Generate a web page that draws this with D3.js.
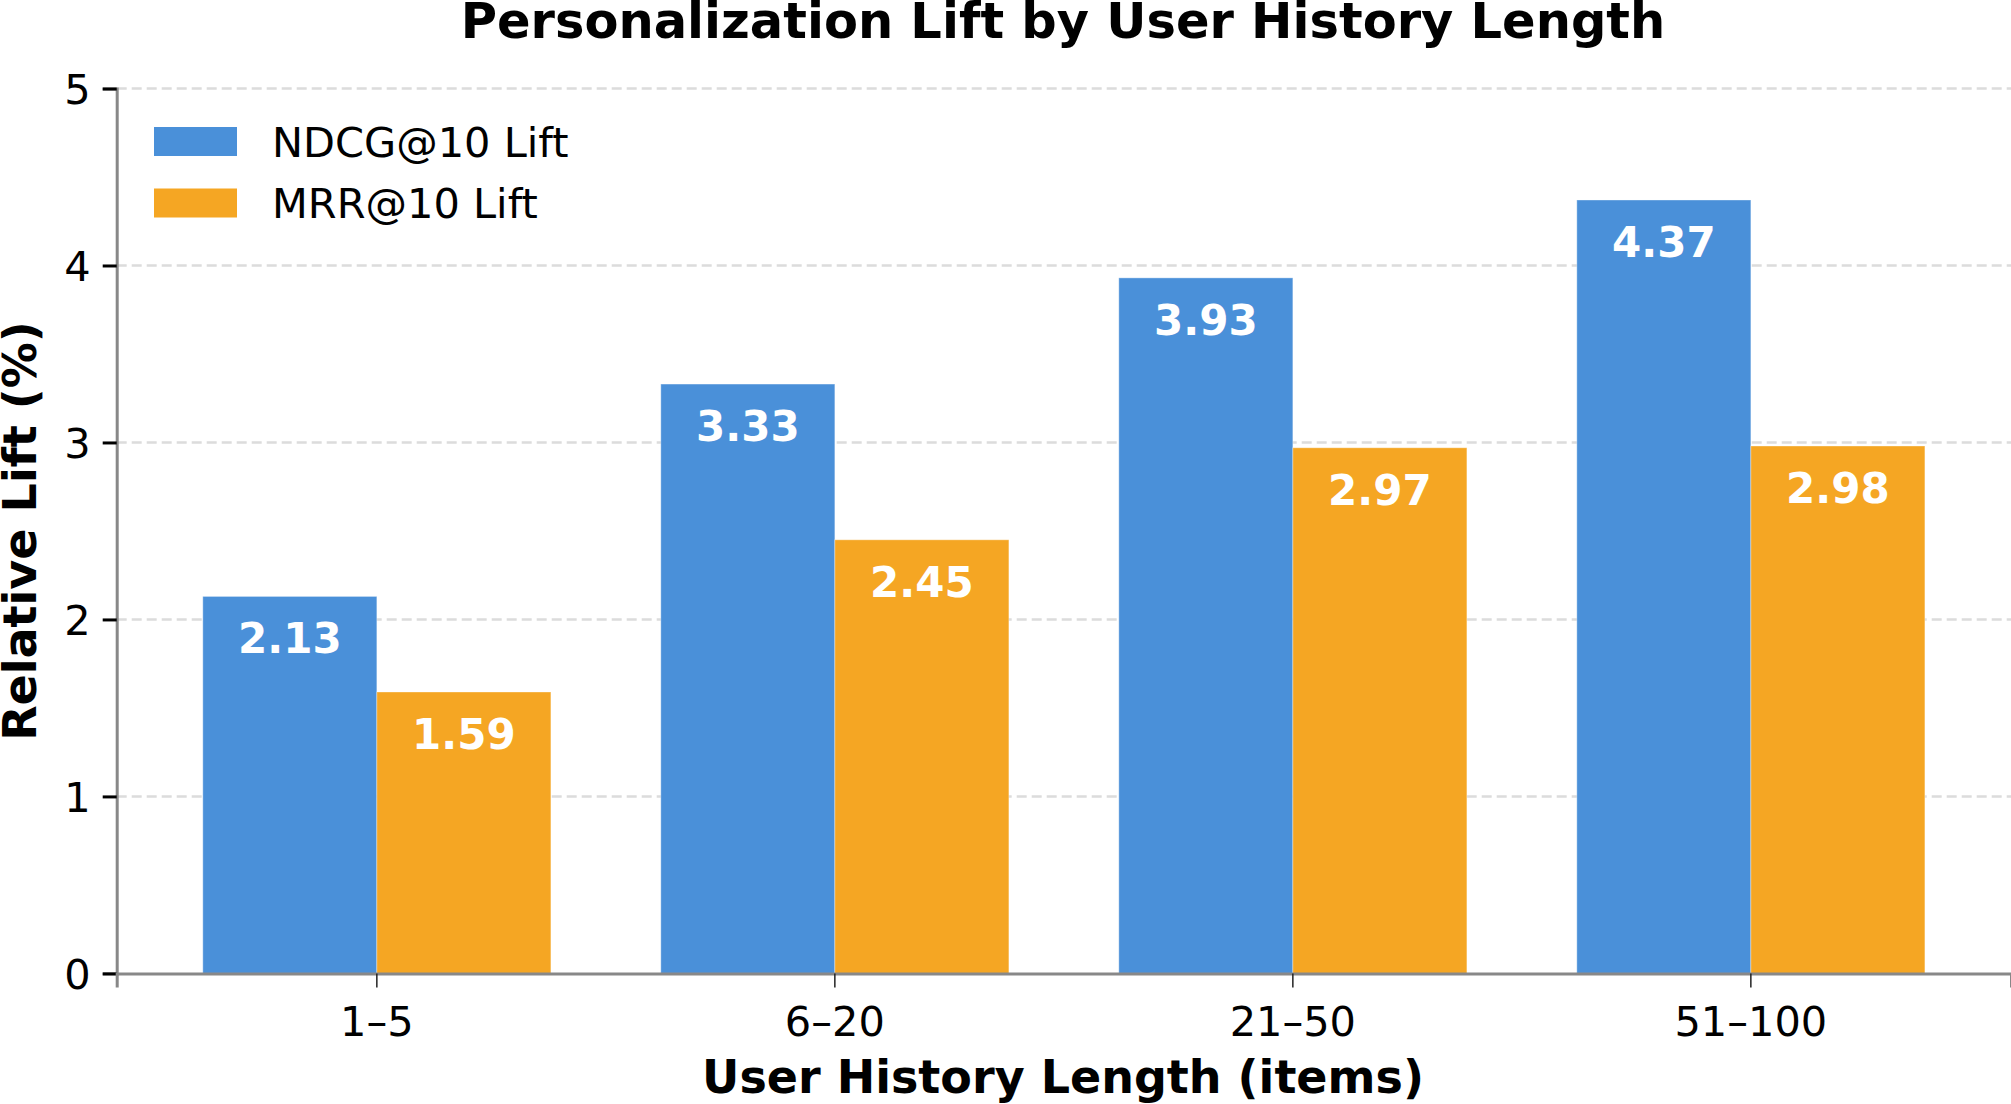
<!DOCTYPE html>
<html>
<head>
<meta charset="utf-8">
<script src="https://cdn.jsdelivr.net/npm/d3@7"></script>
<style>
  html, body { margin: 0; padding: 0; background: #fff; }
  svg text { font-family: "DejaVu Sans", sans-serif; }
</style>
</head>
<body>
<div id="chart"></div>
<script>
const categories = ['1–5', '6–20', '21–50', '51–100']
const seriesNames = ['NDCG@10 Lift', 'MRR@10 Lift']
const ndcgLift = [2.13, 3.33, 3.93, 4.37]
const mrrLift = [1.59, 2.45, 2.97, 2.98]
const yTicks = [0, 1, 2, 3, 4, 5]
const colors = ['#4a90d9', '#f5a623']

const width = 2011
const height = 1104
const margin = { top: 88.5, right: 0, bottom: 1104 - 973.4, left: 116.7 }
const gW = width - margin.left - margin.right
const gH = height - margin.top - margin.bottom

const svg = d3.select('#chart')
  .append('svg')
  .attr('width', width)
  .attr('height', height)

const x = d3.scaleBand()
  .domain(categories)
  .range([0, gW])
  .paddingInner(0.24)
  .paddingOuter(0.188)

const xs = d3.scaleBand()
  .domain(seriesNames)
  .range([0, x.bandwidth()])

const y = d3.scaleLinear()
  .domain([0, 5])
  .range([gH, 0])

const g = svg.append('g')
  .attr('transform', `translate(${margin.left}, ${margin.top})`)

// 网格线
g.append('g')
  .selectAll('line')
  .data(yTicks.slice(1))
  .join('line')
  .attr('x1', 0)
  .attr('x2', gW)
  .attr('y1', d => y(d))
  .attr('y2', d => y(d))
  .style('stroke', '#dcdcdc')
  .style('stroke-width', 2.5)
  .style('stroke-dasharray', '10 5')

const rows = categories.map((c, i) => ({ cat: c, values: [ndcgLift[i], mrrLift[i]] }))

const groups = g.append('g')
  .selectAll('g')
  .data(rows)
  .join('g')
  .attr('transform', d => `translate(${x(d.cat)}, 0)`)

groups.selectAll('rect')
  .data(d => d.values.map((v, j) => ({ name: seriesNames[j], v, j })))
  .join('rect')
  .attr('x', d => xs(d.name))
  .attr('y', d => y(d.v))
  .attr('width', xs.bandwidth())
  .attr('height', d => gH - y(d.v))
  .style('fill', d => colors[d.j])
  .style('stroke', 'rgba(255,255,255,0.35)')
  .style('stroke-width', 1)

groups.selectAll('text')
  .data(d => d.values.map((v, j) => ({ name: seriesNames[j], v, j })))
  .join('text')
  .attr('x', d => xs(d.name) + xs.bandwidth() / 2)
  .attr('y', d => y(d.v) + 57)
  .attr('text-anchor', 'middle')
  .style('fill', '#fff')
  .style('font-weight', 'bold')
  .style('font-size', '42px')
  .text(d => d.v.toFixed(2))

// 坐标轴
const yAxis = g.append('g')
  .call(d3.axisLeft(y).tickValues(yTicks).tickFormat(d3.format('d')).tickSize(14).tickPadding(12))
yAxis.select('.domain').style('stroke', '#888').style('stroke-width', 3)
yAxis.selectAll('.tick line').style('stroke', '#000').style('stroke-width', 3)
yAxis.selectAll('.tick text').style('font-size', '41.5px').style('fill', '#000').attr('dy', '0.36em')

const xAxis = g.append('g')
  .attr('transform', `translate(0, ${gH})`)
  .call(d3.axisBottom(x).tickSize(14).tickPadding(19))
xAxis.select('.domain').style('stroke', '#888').style('stroke-width', 3)
xAxis.selectAll('.tick line').style('stroke', '#222').style('stroke-width', 1.5)
xAxis.selectAll('.tick text').style('font-size', '41.5px').style('fill', '#000')

// 标题
svg.append('text')
  .attr('x', 1063)
  .attr('y', 38)
  .attr('text-anchor', 'middle')
  .style('font-weight', 'bold')
  .style('font-size', '49.5px')
  .text('Personalization Lift by User History Length')

svg.append('text')
  .attr('x', 1063)
  .attr('y', 1093)
  .attr('text-anchor', 'middle')
  .style('font-weight', 'bold')
  .style('font-size', '46px')
  .text('User History Length (items)')

svg.append('text')
  .attr('transform', 'translate(36, 531) rotate(-90)')
  .attr('text-anchor', 'middle')
  .style('font-weight', 'bold')
  .style('font-size', '46px')
  .text('Relative Lift (%)')

// 图例
const legend = svg.append('g')
  .attr('transform', 'translate(154, 127)')
legend.selectAll('rect')
  .data(seriesNames)
  .join('rect')
  .attr('x', 0)
  .attr('y', (d, i) => i * 61.5)
  .attr('width', 83)
  .attr('height', 29)
  .style('fill', (d, i) => colors[i])
legend.selectAll('text')
  .data(seriesNames)
  .join('text')
  .attr('x', 118)
  .attr('y', (d, i) => i * 61.5 + 15)
  .attr('dy', '0.36em')
  .style('font-size', '41.5px')
  .text(d => d)
</script>
</body>
</html>
